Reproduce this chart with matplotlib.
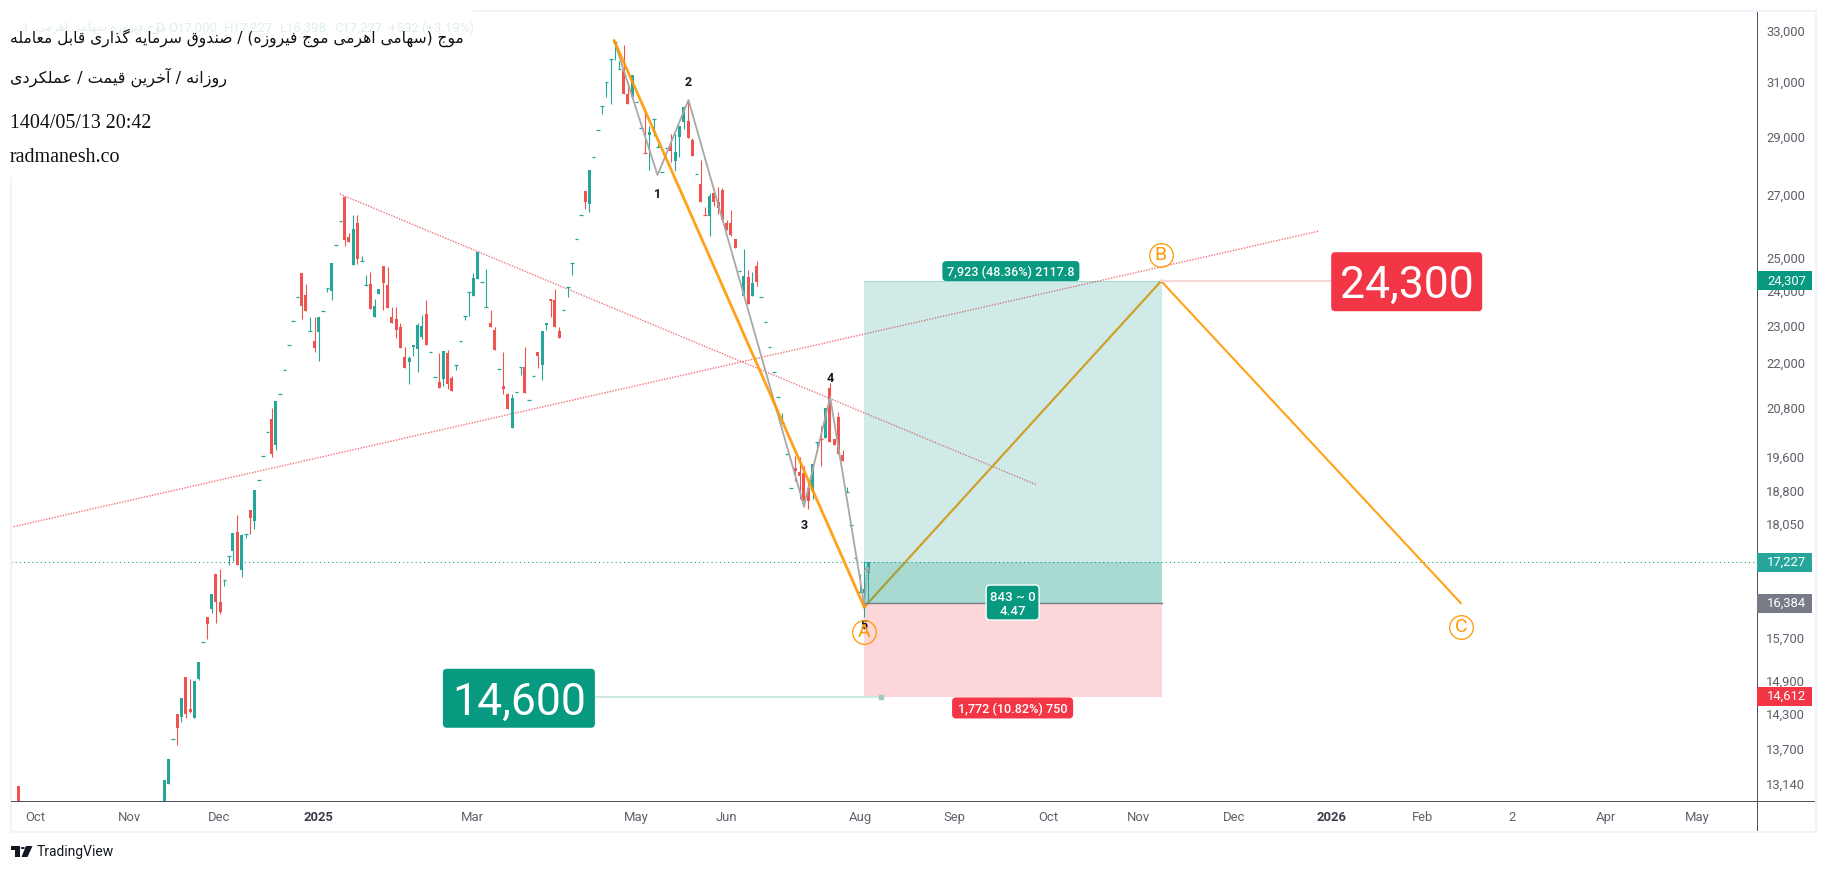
import matplotlib
matplotlib.use('Agg')
import matplotlib.pyplot as plt
import numpy as np
from matplotlib.patches import FancyBboxPatch, Rectangle, Polygon, Circle
from matplotlib.ticker import NullLocator, NullFormatter
from matplotlib.transforms import IdentityTransform

# daily bars, first one sits far left, the ones between are below the visible range
bar_x = [-34] + list(range(165))
opens = [13090,
    12800, 13125, 13880, 14300, 14247, 14963, 14387, 14230, 14926, 15630,
    16103, 16262, 16974, 16400, 16849, 17352, 17459, 17870, 17057, 17820,
    18357, 18114, 19046, 19605, 20190, 20525, 19876, 21160, 21790, 22468,
    23136, 23827, 24540, 23885, 22870, 22577, 22830, 23415, 24100, 24003,
    25393, 26150, 26930, 25640, 24780, 26085, 24898, 24170, 24209, 23251,
    23915, 24750, 24180, 23251, 23194, 22970, 22140, 22005, 22410, 22356,
    22690, 23337, 22276, 21607, 21476, 21555, 22248, 21580, 21925, 22570,
    23280, 23975, 23855, 24360, 24260, 23530, 23082, 22880, 21810, 21370,
    21160, 20297, 21205, 21870, 21870, 21005, 21625, 22276, 21925, 23024,
    23770, 23740, 22856, 23465, 24125, 24840, 25570, 26335, 27129, 26695,
    28290, 29220, 30105, 31000, 31880, 32556, 31500, 31461, 30550, 30450,
    30250, 29300, 28430, 29045, 29630, 28635, 27770, 28595, 28665, 28145,
    28985, 29525, 29555, 28880, 27690, 27360, 26360, 26310, 27063, 26765,
    27163, 26085, 26085, 25570, 24590, 23860, 24420, 23860, 24750, 23827,
    23110, 22410, 21737, 21080, 20420, 19660, 18860, 19327, 19232, 19208,
    18860, 18790, 19950, 20030, 20045, 21316, 20020, 20575, 19635, 18770,
    18020, 17310, 16604, 16584, 17000]
highs = [13090,
    13188, 13533, 13880, 14300, 14582, 14963, 14926, 14890, 15240, 15630,
    16103, 16563, 16974, 17078, 16849, 17352, 17848, 18245, 17827, 17820,
    18357, 18813, 19046, 19605, 20190, 20800, 20977, 21160, 21790, 22468,
    23136, 23827, 24540, 24209, 23251, 23251, 23251, 23415, 24100, 24840,
    25393, 26150, 26930, 25770, 26343, 26343, 25055, 24478, 24570, 23770,
    24065, 24750, 24720, 23537, 23537, 23082, 22410, 22167, 22468, 23082,
    23308, 23740, 22276, 21607, 22248, 22303, 22330, 21632, 21925, 22570,
    23280, 23975, 24540, 25178, 24260, 24660, 23450, 22970, 21810, 22276,
    21185, 21160, 21205, 21870, 22410, 21005, 21625, 22276, 22856, 23082,
    23770, 24070, 22970, 23465, 24125, 24840, 25570, 26335, 27129, 27850,
    28290, 29220, 30105, 31000, 31880, 32556, 31800, 32437, 31000, 31270,
    30250, 29300, 29885, 29360, 29630, 28735, 27770, 28595, 29075, 29075,
    29390, 30065, 30250, 28950, 27690, 28180, 26600, 27063, 27230, 27263,
    27230, 26180, 26505, 25570, 24590, 25270, 24630, 24570, 24900, 23827,
    23110, 22410, 21737, 21080, 20680, 19660, 18860, 19614, 19588, 19373,
    18980, 19420, 19950, 20345, 20800, 21440, 20020, 20700, 19757, 18885,
    18020, 17310, 16974, 17245, 17227]
lows = [12700,
    12800, 13125, 13880, 13768, 14160, 14230, 14317, 14230, 14908, 15630,
    15675, 16182, 15985, 16162, 16727, 17161, 17245, 17161, 16911, 17745,
    17827, 17935, 19046, 19605, 20190, 19588, 19757, 21160, 21790, 22468,
    23136, 23827, 23194, 23423, 22870, 22276, 22030, 23415, 23975, 23740,
    25393, 26150, 25362, 25490, 24780, 24810, 24898, 24170, 23480, 23251,
    23915, 23450, 23510, 23082, 22650, 22378, 21845, 21420, 22167, 21737,
    22640, 22468, 22276, 21607, 21316, 21370, 21290, 21237, 21790, 22570,
    23165, 23280, 23855, 24360, 24260, 23530, 22970, 22330, 21810, 21160,
    20775, 20297, 21205, 21660, 21185, 21005, 21625, 21845, 21530, 22880,
    23251, 22970, 22650, 23465, 23827, 24478, 25570, 26335, 26540, 26450,
    28290, 29220, 29810, 30450, 30180, 31845, 31500, 30550, 30180, 30450,
    30250, 29300, 28420, 27850, 29015, 28635, 27770, 28595, 28110, 27802,
    28290, 29265, 28950, 28320, 27690, 26775, 26343, 25675, 26636, 26375,
    26180, 25865, 25675, 25300, 24590, 23860, 23625, 23860, 24150, 23827,
    23110, 22410, 21737, 21080, 20420, 19660, 18860, 19022, 18606, 18420,
    18380, 18606, 19708, 19373, 20045, 19950, 19876, 19660, 19490, 18770,
    18020, 17310, 16604, 16105, 16398]
closes = [12750,
    13188, 13533, 13880, 14056, 14582, 14300, 14334, 14890, 15240, 15630,
    15964, 16563, 16400, 16202, 16849, 17352, 17848, 17161, 17805, 17820,
    18179, 18813, 19046, 19605, 20190, 19660, 20977, 21160, 21790, 22468,
    23136, 23827, 23565, 23423, 22870, 22378, 23251, 23415, 24100, 24840,
    25393, 26150, 25550, 25490, 25896, 24960, 24898, 24170, 23480, 23565,
    24065, 24240, 23510, 23082, 22880, 22378, 21845, 22113, 22468, 23024,
    22995, 22468, 22276, 21607, 21316, 22303, 21420, 21237, 21925, 22570,
    23280, 23975, 24390, 25178, 24260, 23530, 22970, 22330, 21810, 21290,
    20775, 21055, 21205, 21870, 21185, 21005, 21625, 22167, 22856, 23082,
    23750, 22970, 22650, 23465, 24125, 24840, 25570, 26335, 26775, 27850,
    28290, 29220, 30105, 31000, 31880, 32556, 31500, 30550, 30180, 31270,
    30250, 29300, 28420, 29165, 29630, 28635, 27770, 28595, 28490, 28455,
    29390, 30065, 28950, 28320, 27690, 26775, 26343, 26960, 26765, 26570,
    26180, 25865, 25705, 25300, 24590, 24450, 23625, 24240, 24270, 23827,
    23110, 22410, 21737, 21080, 20420, 19660, 18860, 19256, 19138, 18563,
    18563, 19420, 19950, 20020, 20800, 19950, 19876, 19660, 19490, 18770,
    18020, 17310, 16604, 16665, 17227]

# drawings on the chart
abc_x = [104.8, 163.05, 232.2, 302]
abc_price = [32610, 16304, 24300, 16384]
abc_names = ['A', 'B', 'C']
abc_name_x = [163.05, 232.1, 302]
abc_name_price = [15810, 25085, 15908]
wave_x = [104.8, 114.9, 122.1, 149, 155.1, 163.05]
wave_price = [32610, 27666, 30327, 18445, 21080, 16347]
wave_names = ['1', '2', '3', '4', '5']
wave_name_price = [27030, 31000, 18025, 21578, 15946]
trend1_x = [-35.71, 269]
trend1_price = [17977, 25833]
trend2_x = [40.9, 203.05]
trend2_price = [27030, 18942]

last_price = 17227
entry_price = 16384
target_price = 24307
stop_price = 14612
box_x = [163, 232.3]

price_ticks = [33000, 31000, 29000, 27000, 25000, 24000, 23000, 22000, 20800, 19600,
               18800, 18050, 16500, 15700, 14900, 14300, 13700, 13140]
time_ticks = [-30.1, -8.1, 12.7, 35.8, 71.8, 109.9, 130.9, 162.1, 184, 206, 227,
              249.1, 272, 293, 313.9, 335.9, 357]
time_labels = ['Oct', 'Nov', 'Dec', '2025', 'Mar', 'May', 'Jun', 'Aug', 'Sep', 'Oct', 'Nov',
               'Dec', '2026', 'Feb', '2', 'Apr', 'May']

title_fa = 'موج (سهامی اهرمی موج فیروزه) / صندوق سرمایه گذاری قابل معامله'
subtitle_fa = 'روزانه / آخرین قیمت / عملکردی'
legend_fa = 'موج فیروزه سهامی اهرمی'

GREEN = '#26a69a'
RED = '#ef5350'
TV_GREEN = '#089981'
TV_RED = '#f23645'
ORANGE = '#ff9800'
W, H = 1827, 871

# matplotlib has no arabic shaping, so pick the presentation forms by hand
FORMS = {
    'ا': (0xFE8D, 0xFE8E), 'آ': (0xFE81, 0xFE82), 'د': (0xFEA9, 0xFEAA), 'ذ': (0xFEAB, 0xFEAC),
    'ر': (0xFEAD, 0xFEAE), 'ز': (0xFEAF, 0xFEB0), 'و': (0xFEED, 0xFEEE),
    'ب': (0xFE8F, 0xFE90, 0xFE91, 0xFE92), 'ت': (0xFE95, 0xFE96, 0xFE97, 0xFE98),
    'ج': (0xFE9D, 0xFE9E, 0xFE9F, 0xFEA0), 'خ': (0xFEA5, 0xFEA6, 0xFEA7, 0xFEA8),
    'س': (0xFEB1, 0xFEB2, 0xFEB3, 0xFEB4), 'ص': (0xFEB9, 0xFEBA, 0xFEBB, 0xFEBC),
    'ع': (0xFEC9, 0xFECA, 0xFECB, 0xFECC), 'ف': (0xFED1, 0xFED2, 0xFED3, 0xFED4),
    'ق': (0xFED5, 0xFED6, 0xFED7, 0xFED8), 'ک': (0xFB8E, 0xFB8F, 0xFB90, 0xFB91),
    'گ': (0xFB92, 0xFB93, 0xFB94, 0xFB95), 'ل': (0xFEDD, 0xFEDE, 0xFEDF, 0xFEE0),
    'م': (0xFEE1, 0xFEE2, 0xFEE3, 0xFEE4), 'ن': (0xFEE5, 0xFEE6, 0xFEE7, 0xFEE8),
    'ه': (0xFEE9, 0xFEEA, 0xFEEB, 0xFEEC), 'ی': (0xFBFC, 0xFBFD, 0xFBFE, 0xFBFF),
}


def shape_fa(s):
    out = []
    for i, ch in enumerate(s):
        if ch not in FORMS:
            out.append({'(': ')', ')': '('}.get(ch, ch))
            continue
        f = FORMS[ch]
        prev = s[i - 1] if i > 0 else ''
        nxt = s[i + 1] if i + 1 < len(s) else ''
        join_prev = prev in FORMS and len(FORMS[prev]) == 4
        join_next = nxt in FORMS and len(f) == 4
        if join_prev and join_next:
            out.append(chr(f[3]))
        elif join_next:
            out.append(chr(f[2]))
        elif join_prev:
            out.append(chr(f[1]))
        else:
            out.append(chr(f[0]))
    return ''.join(reversed(out))


plt.rcParams['font.family'] = ['Roboto', 'DejaVu Sans']
fig = plt.figure(figsize=(W / 100, H / 100), dpi=100, facecolor='white')
ax = fig.add_axes([11 / W, 1 - 801 / H, (1757 - 11) / W, (801 - 11) / H])
ax.set_yscale('log')
ax.set_xlim(-35.71, 371)
ax.set_ylim(12859, 33818)

# candles
bar_x = np.array(bar_x)
o, h, l, c = map(np.array, (opens, highs, lows, closes))
colors = np.where(c >= o, GREEN, RED)
ax.vlines(bar_x, l, h, colors=colors, lw=0.8, zorder=4)
ax.bar(bar_x, np.abs(c - o), bottom=np.minimum(o, c), width=0.7, color=colors, lw=0, zorder=4)
flat = np.abs(c - o) < 30
ax.hlines(c[flat], bar_x[flat] - 0.42, bar_x[flat] + 0.42, colors=colors[flat], lw=0.9, zorder=4)

# trend lines, dotted
dot = (0, (1, 1))
ax.plot(trend1_x, trend1_price, color=TV_RED, lw=1, ls=dot, alpha=0.7, zorder=2)
ax.plot(trend2_x, trend2_price, color=TV_RED, lw=1, ls=dot, alpha=0.7, zorder=2)

# last price line
ax.axhline(last_price, color=TV_GREEN, lw=0.75, ls=(0, (1, 3)), zorder=2)

# elliott wave lines
ax.plot(wave_x, wave_price, color='#a8a8a8', lw=1.3, zorder=5)
ax.annotate('', xy=(163.9, last_price), xytext=(wave_x[-1], wave_price[-1]),
            arrowprops=dict(arrowstyle='->', color='#a8a8a8', lw=1, ls='--'), zorder=5)
ax.plot(abc_x[:2], abc_price[:2], color=ORANGE, lw=2, alpha=0.9, zorder=5)
ax.plot(abc_x[1:3], abc_price[1:3], color=ORANGE, lw=1.6, alpha=0.9, zorder=2)
ax.plot(abc_x[2:], abc_price[2:], color=ORANGE, lw=1.5, alpha=0.9, zorder=2)

# long position box
ax.fill_between(box_x, entry_price, target_price, color=TV_GREEN, alpha=0.19, lw=0, zorder=3)
ax.fill_between(box_x, stop_price, entry_price, color=TV_RED, alpha=0.2, lw=0, zorder=3)
ax.fill_between(box_x, entry_price, last_price, color=TV_GREEN, alpha=0.2, lw=0, zorder=3)
ax.plot(box_x, [entry_price, entry_price], color='#787b86', lw=1, zorder=3)
ax.plot(box_x, [target_price, target_price], color=TV_GREEN, lw=0.8, alpha=0.2, zorder=3)

# price notes with their leader lines
ax.plot([abc_x[2], 271.7], [target_price, target_price], color='#fbd7da', lw=1.5, zorder=3)
ax.plot([100.3, 166.9], [stop_price, stop_price], color='#cfe9e4', lw=1.5, zorder=3)
ax.plot([166.9], [stop_price], 's', color='#9fc9c2', ms=3, zorder=3)


def to_px(x, price):
    return ax.transData.transform((x, price))


def label_box(x, price, w, h, color, text, size, edge='none', round_px=4, weight='normal'):
    cx, cy = to_px(x, price)
    box = FancyBboxPatch((cx - w / 2, cy - h / 2), w, h, boxstyle=f'round,pad=0,rounding_size={round_px}',
                         fc=color, ec=edge, lw=1, transform=IdentityTransform(), clip_on=False, zorder=7)
    ax.add_patch(box)
    ax.text(x, price, text, color='white', fontsize=size, ha='center', va='center_baseline', zorder=8,
            linespacing=1.1, weight=weight)


label_box(197.2, 24598, 137, 20, TV_GREEN, '7,923 (48.36%) 2117.8', 9.1, weight='medium')
label_box(197.6, 14410, 121, 21, TV_RED, '1,772 (10.82%) 750', 9.1, weight='medium')
label_box(197.6, 16395, 53, 35, TV_GREEN, '843 ~ 0\n4.47', 9.5, edge='white', weight='medium')
label_box(289.4, 24280, 151, 59, TV_RED, '24,300', 32)
label_box(82.6, 14582, 152, 59, TV_GREEN, '14,600', 32)

# wave numbers and abc circles
for x, p, name in zip(wave_x[1:], wave_name_price, wave_names):
    ax.text(x, p, name, fontsize=9, weight='bold', color='#131722', ha='center', va='center', zorder=9)
for x, p, name in zip(abc_name_x, abc_name_price, abc_names):
    ax.plot([x], [p], 'o', ms=17, mfc='none', mec=ORANGE, mew=0.9, zorder=9)
    ax.text(x, p, name, fontsize=14, color=ORANGE, ha='center', va='center', zorder=9)

# axes and ticks
ax.yaxis.tick_right()
ax.set_yticks(price_ticks)
ax.set_yticklabels([f'{v:,}' for v in price_ticks])
ax.yaxis.set_minor_locator(NullLocator())
ax.yaxis.set_minor_formatter(NullFormatter())
ax.set_xticks(time_ticks)
ax.set_xticklabels(time_labels)
ax.tick_params(axis='y', length=0, pad=6.5, labelsize=9.4, labelcolor='#5d606b')
ax.tick_params(axis='x', length=0, pad=7, labelsize=9.4, labelcolor='#5d606b')
for t in ax.get_xticklabels():
    if t.get_text() in ('2025', '2026'):
        t.set_color('#3a3d47')
        t.set_weight('bold')
ax.spines['top'].set_visible(False)
ax.spines['left'].set_visible(False)
ax.spines['right'].set_visible(False)
ax.spines['bottom'].set_visible(False)


def fx(x):
    return x / W


def fy(y):
    return 1 - y / H


def frect(x0, y0, x1, y1, color, z, **kw):
    fig.add_artist(Rectangle((fx(x0), fy(y1)), (x1 - x0) / W, (y1 - y0) / H, fc=color, ec='none',
                             transform=fig.transFigure, zorder=z, **kw))


# chart frame, time and price scale lines
frect(10, 10, 1817, 12, '#f0f3fa', 1)
frect(10, 831, 1817, 833, '#f0f3fa', 1)
frect(10, 10, 12, 833, '#f0f3fa', 1)
frect(1815, 10, 1817, 833, '#f0f3fa', 1)
frect(11, 800.5, 1815, 802, '#50535e', 2)
frect(1756.5, 12, 1758, 831, '#50535e', 2)

# price tags on the scale
for price, color in [(target_price, TV_GREEN), (last_price, GREEN), (entry_price, '#787b86'), (stop_price, TV_RED)]:
    _, cy = to_px(0, price)
    frect(1757, H - cy - 9.5, 1812, H - cy + 9.5, color, 6)
    fig.text(fx(1786.5), cy / H, f'{price:,}', color='white', fontsize=9.4, ha='center', va='center', zorder=7)

# header block sits on a white patch over the chart corner
frect(0, 0, 473, 177, 'white', 3)
pale = '#e2efed'
for x, s in [(22, '1'), (156, 'D'), (168, 'O17,000'), (224, 'H17,227'), (280, 'L16,398'), (334, 'C17,227'),
             (389, '+532 (+3.19%)')]:
    fig.text(fx(x), fy(28), s, color=pale, fontsize=9.5, va='center', zorder=4)
fig.text(fx(36), fy(28), shape_fa(legend_fa), color=pale, fontsize=8.5, family='DejaVu Sans', va='center', zorder=4)
fig.text(fx(9.5), fy(38), shape_fa(title_fa), color='#111111', fontsize=11.2, family='DejaVu Sans', va='center', zorder=5)
fig.text(fx(10), fy(77), shape_fa(subtitle_fa), color='#111111', fontsize=11.6, family='DejaVu Sans', va='center', zorder=5)
fig.text(fx(10), fy(123), '1404/05/13 20:42', color='#111111', fontsize=14.4, family='Liberation Serif', va='center', zorder=5)
fig.text(fx(10), fy(158), 'radmanesh.co', color='#111111', fontsize=14.4, family='Liberation Serif', va='center', zorder=5)

# tradingview mark
logo = '#131722'
frect(11, 846, 20, 850, logo, 5)
frect(15, 846, 20, 857, logo, 5)
fig.add_artist(Circle((fx(22.8), fy(848)), 2.1 / W, fc=logo, ec='none', transform=fig.transFigure, zorder=5))
fig.add_artist(Polygon([(fx(26), fy(846)), (fx(32.5), fy(846)), (fx(27.5), fy(857)), (fx(21.5), fy(857))],
                       fc=logo, ec='none', transform=fig.transFigure, zorder=5))
fig.text(fx(36.5), fy(852), 'TradingView', color=logo, fontsize=10, va='center', zorder=5)

fig.savefig('out.png', dpi=100)
plt.close(fig)
